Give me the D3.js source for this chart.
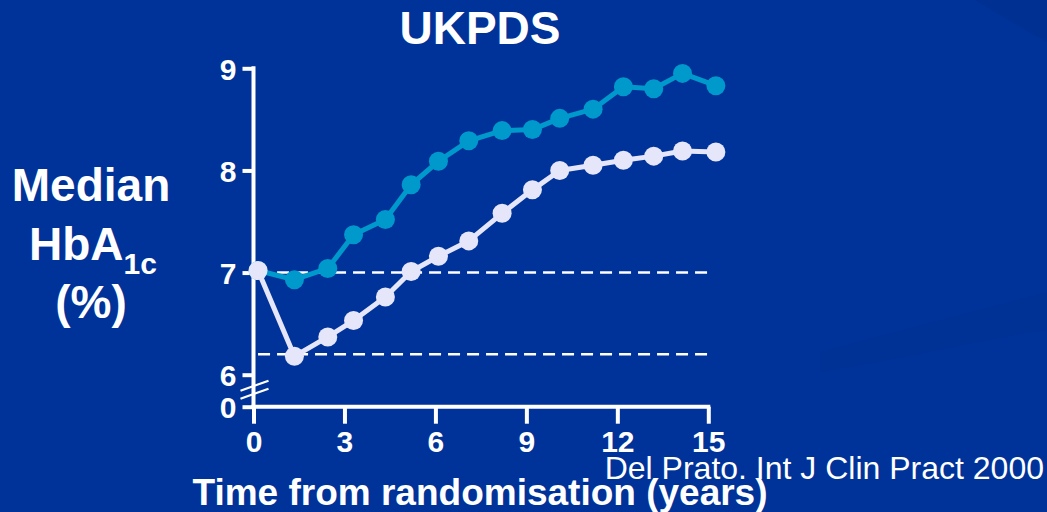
<!DOCTYPE html>
<html>
<head>
<meta charset="utf-8">
<script src="https://cdn.jsdelivr.net/npm/d3@7/dist/d3.min.js"></script>
<style>
  html, body { margin: 0; padding: 0; background: #003399; }
  svg { display: block; }
  text { font-family: "Liberation Sans", Arial, sans-serif; fill: #ffffff; }
</style>
</head>
<body>
<svg id="chart" width="1047" height="512"></svg>
<script>
// ---- data ----
const years = [0.15, 1.35, 2.45, 3.3, 4.35, 5.2, 6.1, 7.1, 8.2, 9.2, 10.1, 11.2, 12.2, 13.2, 14.15, 15.25];
const conventional = [7.02, 6.93, 7.04, 7.37, 7.52, 7.86, 8.09, 8.29, 8.39, 8.40, 8.51, 8.60, 8.82, 8.80, 8.95, 8.83];
const intensive    = [7.02, 6.18, 6.37, 6.53, 6.76, 7.01, 7.16, 7.31, 7.58, 7.81, 8.00, 8.05, 8.10, 8.14, 8.19, 8.18];
const referenceLines = [7.0, 6.2];
const xTicks = [0, 3, 6, 9, 12, 15];
const yTicks = [0, 6, 7, 8, 9];
const title = "UKPDS";
const xTitle = "Time from randomisation (years)";
const citation = "Del Prato. Int J Clin Pract 2000";

const svg = d3.select("#chart");
const W = 1047, H = 512;

// background
svg.append("rect").attr("width", W).attr("height", H).attr("fill", "#003399");
svg.append("path")
  .attr("d", "M975,0 C1000,15 1025,30 1047,42 L1047,0 Z")
  .attr("fill", "#00308f").attr("opacity", 0.8);
svg.append("path")
  .attr("d", "M820,352 C900,330 980,310 1047,292 L1047,330 C980,340 900,360 820,372 Z")
  .attr("fill", "#00308f").attr("opacity", 0.4);

// scales (y axis broken between 0 and 6)
const x = d3.scaleLinear().domain([0, 15]).range([253.5, 708.3]);
const y = d3.scaleLinear().domain([0, 6, 9]).range([406.7, 374.7, 68.3]);
const baseY = y(0);

// dashed reference lines
svg.selectAll("line.ref").data(referenceLines).join("line")
  .attr("class", "ref")
  .attr("x1", x(0.15)).attr("x2", x(15.05))
  .attr("y1", d => y(d)).attr("y2", d => y(d))
  .attr("stroke", "#ffffff").attr("stroke-width", 2.5)
  .attr("stroke-dasharray", "12,7");

// axes
const axisColor = "#ffffff";
const yAxis = svg.append("g").attr("transform", `translate(${x(0)},0)`)
  .call(d3.axisLeft(y).tickValues(yTicks).tickSize(11).tickPadding(6).tickFormat(d3.format("d")));
yAxis.select(".domain").remove();
yAxis.selectAll(".tick line").attr("stroke", axisColor).attr("stroke-width", 4);
yAxis.selectAll(".tick text")
  .attr("fill", "#fff").style("font-size", "30px").style("font-weight", "bold")
  .attr("font-family", null).attr("dy", "0.36em");

const xAxis = svg.append("g").attr("transform", `translate(0,${baseY})`)
  .call(d3.axisBottom(x).tickValues(xTicks).tickSize(17).tickPadding(7).tickFormat(d3.format("d")));
xAxis.select(".domain").remove();
xAxis.selectAll(".tick line").attr("stroke", axisColor).attr("stroke-width", 4);
xAxis.selectAll(".tick text")
  .attr("fill", "#fff").style("font-size", "30px").style("font-weight", "bold")
  .attr("font-family", null).attr("dy", "0.72em");

// axis lines
svg.append("line")
  .attr("x1", x(0)).attr("x2", x(0))
  .attr("y1", y(9) - 2).attr("y2", baseY)
  .attr("stroke", axisColor).attr("stroke-width", 4);
svg.append("line")
  .attr("x1", x(0) - 2).attr("x2", x(15) + 2)
  .attr("y1", baseY).attr("y2", baseY)
  .attr("stroke", axisColor).attr("stroke-width", 4);

// axis break marks
const bx0 = x(0) - 13, bx1 = x(0) + 15;
[y(0) - 14, y(0) - 22].forEach(yy => {
  svg.append("line")
    .attr("x1", bx0).attr("y1", yy + 6)
    .attr("x2", bx1).attr("y2", yy - 4)
    .attr("stroke", axisColor).attr("stroke-width", 2.2);
});

// series
const series = [
  { name: "Conventional", values: conventional, color: "#0099cc" },
  { name: "Intensive", values: intensive, color: "#e6e6fa" }
];
const line = d3.line().x(d => x(d[0])).y(d => y(d[1]));
series.forEach(s => {
  const pts = years.map((yr, i) => [yr, s.values[i]]);
  const g = svg.append("g");
  g.append("path").datum(pts).attr("d", line)
    .attr("fill", "none").attr("stroke", s.color).attr("stroke-width", 5)
    .attr("stroke-linejoin", "round");
  g.selectAll("circle").data(pts).join("circle")
    .attr("cx", d => x(d[0])).attr("cy", d => y(d[1])).attr("r", 9.5)
    .attr("fill", s.color);
});

// titles
svg.append("text").attr("x", 480).attr("y", 44).attr("text-anchor", "middle")
  .style("font-size", "46px").style("font-weight", "bold").text(title);

svg.append("text").attr("x", 91).attr("y", 201).attr("text-anchor", "middle")
  .style("font-size", "46px").style("font-weight", "bold").text("Median");
const hb = svg.append("text").attr("x", 93).attr("y", 260).attr("text-anchor", "middle").style("font-weight", "bold");
hb.append("tspan").style("font-size", "46px").text("HbA");
hb.append("tspan").style("font-size", "30px").attr("dy", 14).text("1c");
svg.append("text").attr("x", 91).attr("y", 318).attr("text-anchor", "middle")
  .style("font-size", "46px").style("font-weight", "bold").text("(%)");

svg.append("text").attr("x", 480).attr("y", 505).attr("text-anchor", "middle")
  .style("font-size", "37px").style("font-weight", "bold").text(xTitle);

svg.append("text").attr("x", 1044).attr("y", 479).attr("text-anchor", "end")
  .style("font-size", "32px").text(citation);
</script>
</body>
</html>
